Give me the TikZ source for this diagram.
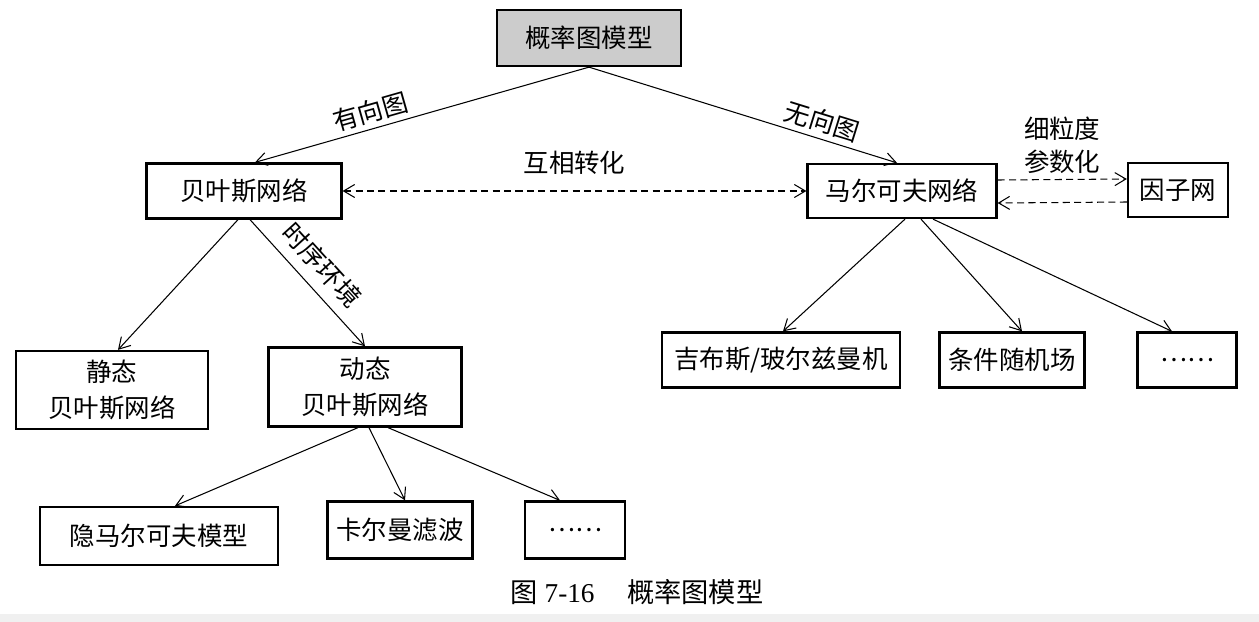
\documentclass[tikz,border=0pt]{standalone}
\usepackage{fontspec}
\setmainfont{Liberation Serif}
\newfontfamily\cjk{Noto Sans CJK SC}
\usepackage{tikz}
\usetikzlibrary{arrows.meta,positioning,calc}
\definecolor{rootgray}{gray}{0.8}
\definecolor{edgegray}{gray}{0.94}

\begin{document}
\begin{tikzpicture}[x=0.02cm, y=-0.02cm,
    box/.style={draw, line width=1.3pt, align=center, inner sep=2pt,
      font=\cjk\fontsize{14.5}{20.5}\selectfont},
    arr/.style={-{Straight Barb[length=2.2mm,width=2.6mm]}, line width=0.6pt},
    darr/.style={arr, dashed, dash pattern=on 4pt off 2.5pt},
    lbl/.style={font=\cjk\fontsize{14.5}{19}\selectfont, inner sep=3pt}]
        \useasboundingbox (0,0) rectangle (1259,622);
        \fill[white] (0,0) rectangle (1259,622);
        \fill[edgegray] (0,614) rectangle (1259,622);

        % top level
        \node[box, fill=rootgray, minimum width=3.68cm, minimum height=1.12cm] (root) at (589,38) {概率图模型};
        \node[box, minimum width=3.9cm, minimum height=1.1cm] (bayes) at (244,191) {贝叶斯网络};
        \node[box, minimum width=3.78cm, minimum height=1.08cm] (markov) at (902,191) {马尔可夫网络};
        \node[box, minimum width=2.0cm, minimum height=1.08cm] (factor) at (1178,190) {因子网};

        % bayes side
        \node[box, minimum width=3.84cm, minimum height=1.56cm] (static) at (112,390) {静态\\贝叶斯网络};
        \node[box, minimum width=3.86cm, minimum height=1.58cm] (dynamic) at (365,387) {动态\\贝叶斯网络};
        \node[box, minimum width=4.76cm, minimum height=1.16cm] (hmm) at (159,536) {隐马尔可夫模型};
        \node[box, minimum width=2.9cm, minimum height=1.14cm] (kalman) at (400,530) {卡尔曼滤波};
        \node[box, minimum width=2.0cm, minimum height=1.14cm] (dotsL) at (575,530) {……};

        % markov side
        \node[box, minimum width=4.76cm, minimum height=1.1cm] (gibbs) at (781,360) {吉布斯/玻尔兹曼机};
        \node[box, minimum width=2.9cm, minimum height=1.1cm] (crf) at (1012,360) {条件随机场};
        \node[box, minimum width=1.98cm, minimum height=1.1cm] (dotsR) at (1187,360) {……};

        % connectors
        \draw[arr] (root.south) -- ([xshift=0.22cm]bayes.north)
          node[lbl, pos=0.64, sloped, above] {有向图};
        \draw[arr] (root.south) -- ([xshift=-0.1cm]markov.north)
          node[lbl, pos=0.74, sloped, above] {无向图};
        \draw[darr, {Straight Barb[length=2.2mm,width=2.6mm]}-{Straight Barb[length=2.2mm,width=2.6mm]}] (bayes.east) -- (markov.west)
          node[lbl, midway, above=0.22cm] {互相转化};
        \draw[darr] ([yshift=0.22cm]markov.east) -- ([yshift=0.22cm]factor.west)
          node[lbl, midway, above, align=center] {细粒度\\参数化};
        \draw[darr] ([yshift=-0.24cm]factor.west) -- ([yshift=-0.24cm]markov.east);

        \draw[arr] ([xshift=-0.12cm]bayes.south) -- ([xshift=0.12cm]static.north);
        \draw[arr] ([xshift=0.12cm]bayes.south) -- (dynamic.north)
          node[lbl, pos=0.48, sloped, above=3pt] {时序环境};

        \draw[arr] ([xshift=-0.14cm]dynamic.south) -- ([xshift=0.32cm]hmm.north);
        \draw[arr] ([xshift=0.08cm]dynamic.south) -- ([xshift=0.1cm]kalman.north);
        \draw[arr] ([xshift=0.46cm]dynamic.south) -- ([xshift=-0.3cm]dotsL.north);

        \draw[arr] ([xshift=0.06cm]markov.south) -- ([xshift=0.04cm]gibbs.north);
        \draw[arr] ([xshift=0.38cm]markov.south) -- ([xshift=0.2cm]crf.north);
        \draw[arr] ([xshift=0.62cm]markov.south) -- ([xshift=-0.3cm]dotsR.north);

        % caption
        \node[font=\fontsize{15.5}{18}\selectfont] (caption) at (637,592) {{\cjk 图} 7-16\hspace{1.2em}{\cjk 概率图模型}};
    \end{tikzpicture}
\end{document}
